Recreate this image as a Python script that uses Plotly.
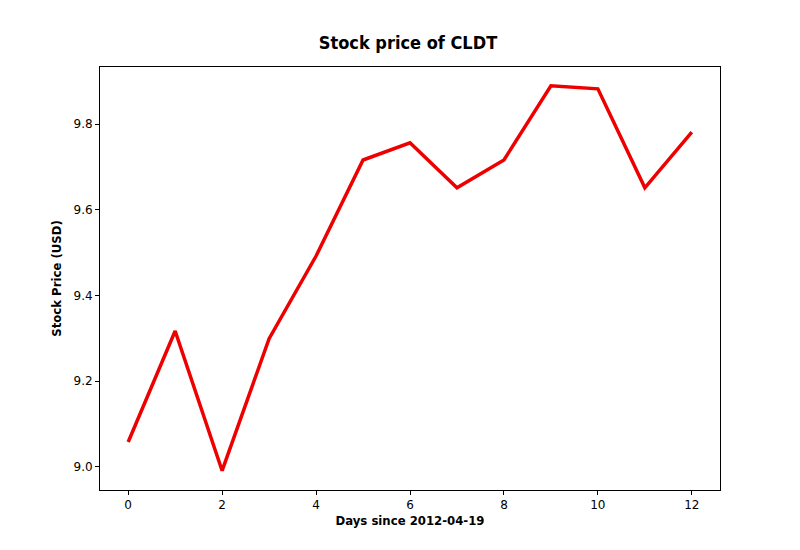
import plotly.graph_objects as go

days = list(range(13))
prices = [9.058, 9.317, 8.991, 9.299, 9.492, 9.716, 9.756, 9.651, 9.716, 9.889, 9.882, 9.651, 9.781]

tf = dict(family="DejaVu Sans Condensed, Liberation Sans Narrow, DejaVu Sans", size=13, color="black")
fig = go.Figure(go.Scatter(x=days, y=prices, mode="lines", line=dict(color="#ee0000", width=3.5)))
fig.update_layout(
    width=800, height=550, plot_bgcolor="white", paper_bgcolor="white",
    margin=dict(l=92, r=88, t=59, b=68), showlegend=False,
    title=dict(text="<b>Stock price of CLDT</b>", x=0.5, xanchor="center", y=0.925, yanchor="bottom",
               font=dict(family=tf["family"], size=18, color="black")),
    font=dict(family="DejaVu Sans", size=12, color="black"),
)
ax = dict(showgrid=False, zeroline=False, showline=True, mirror=True, linecolor="black", linewidth=1,
          ticks="outside", ticklen=4, tickcolor="black")
fig.update_xaxes(range=[-0.6, 12.6], tickvals=[0, 2, 4, 6, 8, 10, 12],
                 title=dict(text="<b>Days since 2012-04-19</b>", font=tf, standoff=4), **ax)
fig.update_yaxes(range=[8.946, 9.933], tickvals=[9.0, 9.2, 9.4, 9.6, 9.8], tickformat=".1f",
                 title=dict(text="<b>Stock Price (USD)</b>", font=tf, standoff=8), **ax)
fig.write_html("out.html")
